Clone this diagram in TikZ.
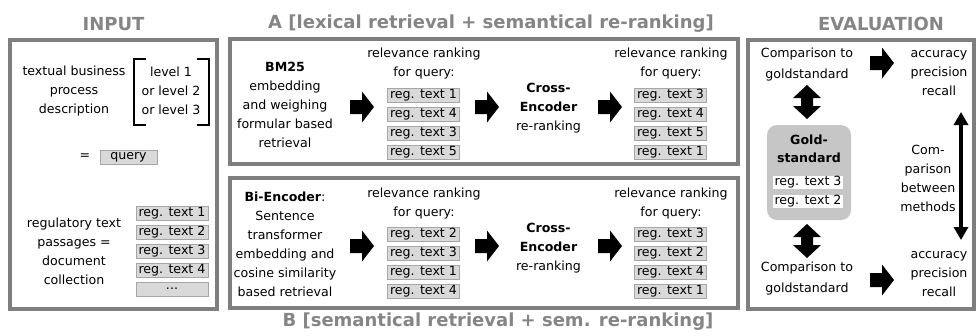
\documentclass[tikz,border=0pt]{standalone}
\usepackage{fontspec}
\setmainfont{DejaVu Sans}
\usetikzlibrary{arrows.meta}
\definecolor{framegray}{HTML}{7F7F7F}
\definecolor{titlegray}{HTML}{858585}
\definecolor{boxfill}{HTML}{D9D9D9}
\definecolor{boxline}{HTML}{A6A6A6}
\definecolor{goldfill}{HTML}{C6C6C6}
\begin{document}
\begin{tikzpicture}[x=1pt,y=-1pt,
  frame/.style={draw=framegray, line width=4pt},
  title/.style={font=\fontsize{18}{20}\selectfont\bfseries, text=titlegray, inner sep=0},
  txt/.style={font=\fontsize{12.6}{19}\selectfont, align=center, inner sep=0},
  txtw/.style={font=\fontsize{12.6}{21}\selectfont, align=center, inner sep=0},
  reg/.style={draw=boxline, fill=boxfill, line width=0.8pt, minimum width=72pt, minimum height=14pt, inner sep=0, font=\fontsize{12.6}{14}\selectfont},
  wreg/.style={fill=white, minimum width=70pt, minimum height=13pt, inner sep=0, font=\fontsize{12.6}{14}\selectfont},
  bracket/.style={draw=black, line width=1.8pt},
  blockarrow/.pic={\fill[black] (-12,-7) -- (0,-7) -- (0,-15.5) -- (12,0) -- (0,15.5) -- (0,7) -- (-12,7) -- cycle;},
  vdarrow/.pic={\fill[black] (0,-17) -- (14,-4) -- (6,-4) -- (6,4) -- (14,4) -- (0,17) -- (-14,4) -- (-6,4) -- (-6,-4) -- (-14,-4) -- cycle;},
  longarrow/.style={draw=black, line width=4pt, {Triangle[length=13pt,width=14pt]}-{Triangle[length=13pt,width=14pt]}, shorten <=0pt, shorten >=0pt}
]
\useasboundingbox (0,0) rectangle (976,335);

% frames
\draw[frame] (9.5,40) rectangle (217,309);
\draw[frame] (229.5,39) rectangle (737.5,164);
\draw[frame] (229.5,177.5) rectangle (737.5,307.5);
\draw[frame] (748,39.5) rectangle (974,309);

% titles
\node[title] (tin) at (113.5,24) {INPUT};
\node[title] (ta) at (491,24) {A [lexical retrieval + semantical re-ranking]};
\node[title] (tb) at (498,322) {B [semantical retrieval + sem. re-ranking]};
\node[title] (tev) at (881,24) {EVALUATION};

% INPUT
\node[txt] (tbpd) at (74,91) {textual business\\process\\description};
\node[txt] (lvl) at (171,91) {level 1\\or level 2\\or level 3};
\coordinate (lb1) at (146,59); \coordinate (lb2) at (134,59);
\coordinate (lb3) at (134,125); \coordinate (lb4) at (146,125);
\coordinate (rb1) at (197,59); \coordinate (rb2) at (209,59);
\coordinate (rb3) at (209,125); \coordinate (rb4) at (197,125);
\draw[bracket] (lb1) -- (lb2) -- (lb3) -- (lb4);
\draw[bracket] (rb1) -- (rb2) -- (rb3) -- (rb4);
\node[txt] (eq) at (85,157) {=};
\node[reg, minimum width=57pt] (query) at (128.5,157) {query};
\node[txt] (rtp) at (74,251.5) {regulatory text\\passages =\\document\\collection};
\node[reg] (in1) at (172,213) {reg. text 1};
\node[reg] (in2) at (172,232) {reg. text 2};
\node[reg] (in3) at (172,251) {reg. text 3};
\node[reg] (in4) at (172,270) {reg. text 4};
\node[reg] (in5) at (172,289) {...};

% A
\node[txt] (bm25) at (285,104.5) {\textbf{BM25}\\embedding\\and weighing\\formular based\\retrieval};
\pic at (362,107) {blockarrow};
\node[txt] (ha1) at (424,64) {relevance ranking\\for query:};
\node[reg] (a11) at (423.5,95) {reg. text 1};
\node[reg] (a12) at (423.5,114) {reg. text 4};
\node[reg] (a13) at (423.5,133) {reg. text 3};
\node[reg] (a14) at (423.5,152) {reg. text 5};
\pic at (487,107) {blockarrow};
\node[txt] (cea) at (548.5,108) {\textbf{Cross-}\\\textbf{Encoder}\\re-ranking};
\pic at (610,107) {blockarrow};
\node[txt] (ha2) at (671,64) {relevance ranking\\for query:};
\node[reg] (a21) at (670.5,95) {reg. text 3};
\node[reg] (a22) at (670.5,114) {reg. text 4};
\node[reg] (a23) at (670.5,133) {reg. text 5};
\node[reg] (a24) at (670.5,152) {reg. text 1};

% B
\node[txt] (bienc) at (285,244) {\textbf{Bi-Encoder}:\\Sentence\\transformer\\embedding and\\cosine similarity\\based retrieval};
\pic at (362,246) {blockarrow};
\node[txt] (hb1) at (424,204) {relevance ranking\\for query:};
\node[reg] (b11) at (423.5,234) {reg. text 2};
\node[reg] (b12) at (423.5,253) {reg. text 3};
\node[reg] (b13) at (423.5,272) {reg. text 1};
\node[reg] (b14) at (423.5,291) {reg. text 4};
\pic at (487,246) {blockarrow};
\node[txt] (ceb) at (548.5,248) {\textbf{Cross-}\\\textbf{Encoder}\\re-ranking};
\pic at (610,246) {blockarrow};
\node[txt] (hb2) at (671,204) {relevance ranking\\for query:};
\node[reg] (b21) at (670.5,234) {reg. text 3};
\node[reg] (b22) at (670.5,253) {reg. text 2};
\node[reg] (b23) at (670.5,272) {reg. text 4};
\node[reg] (b24) at (670.5,291) {reg. text 1};

% EVALUATION
\node[txtw] (cmp1) at (807,64.5) {Comparison to\\goldstandard};
\pic at (882,63) {blockarrow};
\node[txt] (acc1) at (939,73.5) {accuracy\\precision\\recall};
\pic at (807,102) {vdarrow};
\node[fill=goldfill, rounded corners=10pt, minimum width=84pt, minimum height=95pt, inner sep=0] (gold) at (809,172.5) {};
\node[font=\fontsize{12.6}{18}\selectfont\bfseries, align=center, inner sep=0] (goldt) at (809,149) {Gold-\\standard};
\node[wreg] (g1) at (808,182.5) {reg. text 3};
\node[wreg] (g2) at (808,201.5) {reg. text 2};
\pic at (807,241) {vdarrow};
\node[txtw] (cmp2) at (807,279) {Comparison to\\goldstandard};
\pic at (882,280) {blockarrow};
\node[txt] (acc2) at (939,274) {accuracy\\precision\\recall};
\coordinate (lt) at (961,112);
\coordinate (lbt) at (961,240);
\draw[longarrow] (lt) -- (lbt);
\node[txt] (meth) at (928,178) {Com-\\parison\\between\\methods};
\end{tikzpicture}
\end{document}
